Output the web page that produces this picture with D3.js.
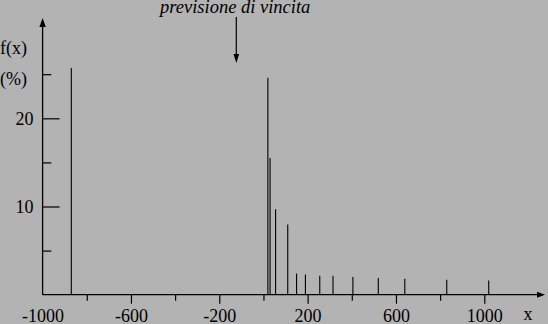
<!DOCTYPE html>
<html>
<head>
<meta charset="utf-8">
<script src="https://cdn.jsdelivr.net/npm/d3@7"></script>
<style>
  html, body { margin: 0; padding: 0; background: #b3b3b3; }
  svg { display: block; }
  text { font-family: "Liberation Serif", "Times New Roman", serif; fill: #000; }
</style>
</head>
<body>
<div id="main"></div>
<script>
// data
var xValues = [-870, 20, 30, 55, 110, 150, 190, 255, 315, 405, 520, 640, 830, 1020];
var fValues = [25.7, 24.6, 15.5, 9.7, 7.95, 2.4, 2.3, 2.15, 2.15, 2.0, 1.9, 1.8, 1.7, 1.6];

var xLabelTicks = [-1000, -600, -200, 200, 600, 1000];
var xMajorTicks = [-600, -200, 200, 600, 1000];
var xMinorTicks = [-800, -400, 0, 400, 800];
var yMajorTicks = [10, 20];
var yMinorTicks = [5, 15, 25];

var width = 548, height = 324;

var svg = d3.select('#main').append('svg')
            .attr('width', width)
            .attr('height', height);

svg.append('rect')
   .attr('width', width)
   .attr('height', height)
   .attr('fill', '#b3b3b3');

var x = d3.scaleLinear().domain([-1000, 1000]).range([42.6, 484.3]);
var y = d3.scaleLinear().domain([0, 20]).range([294.7, 118.3]);

var x0 = x(-1000), y0 = y(0);

function styleAxis(g) {
  g.select('.domain').remove();
  g.selectAll('line').attr('stroke', '#000').attr('stroke-width', 1.2);
  g.selectAll('text').attr('font-size', 18).attr('font-family', '"Liberation Serif", serif').attr('fill', '#000');
}

// x ticks
svg.append('g')
   .attr('transform', 'translate(0,' + y0 + ')')
   .call(d3.axisBottom(x).tickValues(xMajorTicks).tickSize(9).tickFormat(''))
   .call(styleAxis);
svg.append('g')
   .attr('transform', 'translate(0,' + y0 + ')')
   .call(d3.axisBottom(x).tickValues(xMinorTicks).tickSize(6).tickFormat(''))
   .call(styleAxis);
svg.append('g')
   .attr('transform', 'translate(0,' + y0 + ')')
   .call(d3.axisBottom(x).tickValues(xLabelTicks).tickSize(0).tickPadding(15)
           .tickFormat(function(d) { return String(d); }))
   .call(styleAxis);

// y ticks (inside)
svg.append('g')
   .attr('transform', 'translate(' + x0 + ',0)')
   .call(d3.axisRight(y).tickValues(yMajorTicks).tickSize(17).tickFormat(''))
   .call(styleAxis);
svg.append('g')
   .attr('transform', 'translate(' + x0 + ',0)')
   .call(d3.axisRight(y).tickValues(yMinorTicks).tickSize(8.7).tickFormat(''))
   .call(styleAxis);
svg.append('g')
   .attr('transform', 'translate(' + x0 + ',0)')
   .call(d3.axisLeft(y).tickValues(yMajorTicks).tickSize(0).tickPadding(9))
   .call(styleAxis);

// axis lines with arrows
svg.append('line')
   .attr('x1', x0).attr('y1', y0)
   .attr('x2', x0).attr('y2', 24)
   .attr('stroke', '#000').attr('stroke-width', 1.3);
svg.append('path')
   .attr('d', 'M' + x0 + ',18 L' + (x0 - 3.2) + ',27 L' + (x0 + 3.2) + ',27 Z')
   .attr('fill', '#000');

svg.append('line')
   .attr('x1', x0).attr('y1', y0)
   .attr('x2', 540).attr('y2', y0)
   .attr('stroke', '#000').attr('stroke-width', 1.3);
svg.append('path')
   .attr('d', 'M545,' + y0 + ' L537,' + (y0 - 3) + ' L537,' + (y0 + 3) + ' Z')
   .attr('fill', '#000');

// spikes
svg.selectAll('line.bar')
   .data(xValues)
   .enter().append('line')
   .attr('class', 'bar')
   .attr('x1', function(d) { return x(d); })
   .attr('x2', function(d) { return x(d); })
   .attr('y1', y0)
   .attr('y2', function(d, i) { return y(fValues[i]); })
   .attr('stroke', '#000')
   .attr('stroke-width', 1.1);

// labels
svg.append('text').attr('x', 0).attr('y', 54).attr('font-size', 18).text('f(x)');
svg.append('text').attr('x', 0).attr('y', 85).attr('font-size', 18).text('(%)');
svg.append('text').attr('x', 528).attr('y', 320).attr('font-size', 18)
   .attr('text-anchor', 'middle').text('x');

svg.append('text')
   .attr('x', 160).attr('y', 13)
   .attr('font-size', 18.5)
   .attr('font-style', 'italic')
   .text('previsione di vincita');

// arrow pointing at the forecast
var ax = 236.3;
svg.append('line')
   .attr('x1', ax).attr('y1', 17)
   .attr('x2', ax).attr('y2', 56)
   .attr('stroke', '#000').attr('stroke-width', 1.2);
svg.append('path')
   .attr('d', 'M' + ax + ',63 L' + (ax - 2.8) + ',54 L' + (ax + 2.8) + ',54 Z')
   .attr('fill', '#000');
</script>
</body>
</html>
